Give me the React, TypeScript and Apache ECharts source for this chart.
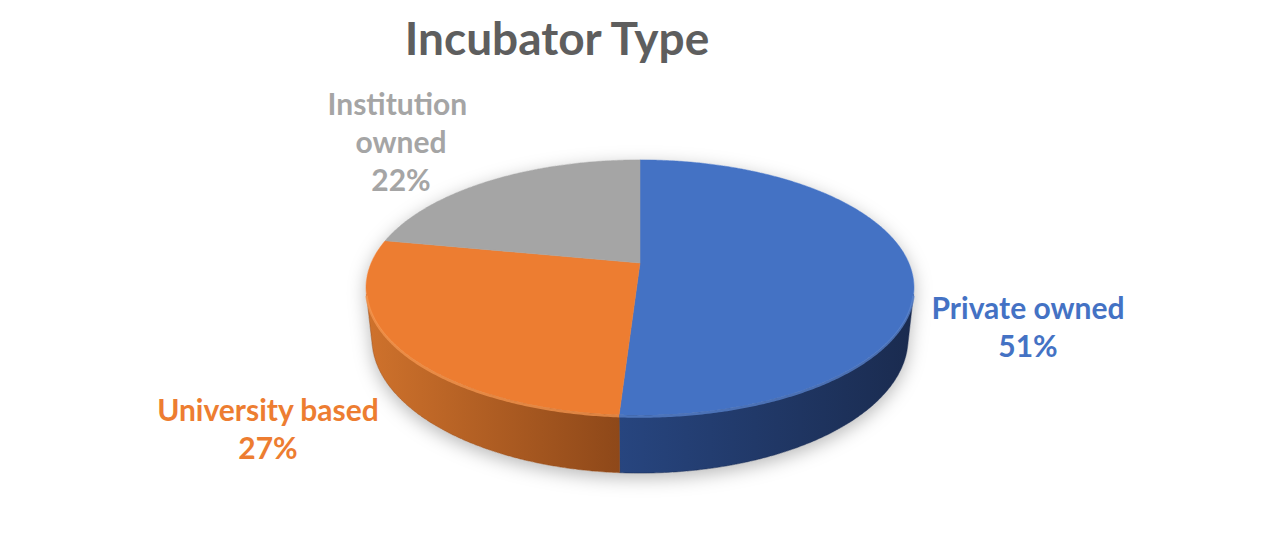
import React, { useEffect, useRef } from "react";
import * as echarts from "echarts";

// ---- data ----
const TITLE = "Incubator Type";
const categories = ["Private owned", "University based", "Institution owned"];
const shares = [51, 27, 22];

// ---- styles / layout ----
const topColors = ["#4472C4", "#ED7D31", "#A5A5A5"];
const sideLight = ["#27457F", "#CF722C", "#8C8C8C"];
const sideDark = ["#1A2B4F", "#8E4819", "#6A6A6A"];
const rimColors = ["#5A84CF", "#F59750", "#BDBDBD"];
const labelColors = ["#4472C4", "#ED7D31", "#A5A5A5"];
const labelAnchors = [
  [1028, 326],
  [268, 428],
  [401, 141],
];
const labelWrap = [300, 300, 160];

// 3D projection of the pie disc
const CX = 640;
const CY = 263;
const F = 1244.6;
const D = 4.629;
const TH = (27.2 * Math.PI) / 180;
const S = Math.sin(TH);
const C = Math.cos(TH);
const H = 0.2144;

function proj(x: number, y: number, z: number): number[] {
  const depth = D - (y * S + z * C);
  return [CX + (F * x) / depth, CY - (F * (y * C - z * S)) / depth];
}
function rim(a: number, y: number) {
  return proj(Math.sin(a), y, -Math.cos(a));
}
function arc(a0: number, a1: number, y: number) {
  const n = Math.max(2, Math.ceil((a1 - a0) / (Math.PI / 360)));
  const pts: number[][] = [];
  for (let i = 0; i <= n; i++) pts.push(rim(a0 + ((a1 - a0) * i) / n, y));
  return pts;
}

export default function App() {
  const ref = useRef<HTMLDivElement>(null);
  useEffect(() => {
    document.body.style.margin = "0";
    const chart = echarts.init(ref.current!, undefined, { renderer: "svg" });
    const total = shares.reduce((a, b) => a + b, 0);
    const av = Math.acos(-1 / (D * C));
    const TWO = Math.PI * 2;

    const renderItem = (params: any, api: any) => {
      const idx = params.dataIndex;
      let start = 0;
      for (let j = 0; j < idx; j++) start += (shares[j] / total) * TWO;
      const a0 = start;
      const a1 = start + (api.value(0) / total) * TWO;
      const children: any[] = [];
      if (idx === 0) {
        const outline = arc(av, TWO - av, -H).concat(arc(TWO - av, TWO + av, 0));
        children.push({
          type: "polygon",
          z2: 0,
          shape: { points: outline },
          style: {
            fill: "#ffffff",
            shadowBlur: 18,
            shadowColor: "rgba(0,0,0,0.28)",
            shadowOffsetY: 5,
          },
        });
      }
      const w0 = Math.max(a0, av);
      const w1 = Math.min(a1, TWO - av);
      if (w1 > w0) {
        const pts = arc(w0, w1, 0).concat(arc(w0, w1, -H).reverse());
        children.push({
          type: "polygon",
          z2: 1,
          shape: { points: pts },
          style: {
            fill: new echarts.graphic.LinearGradient(0, 0, 1, 0, [
              { offset: 0, color: sideLight[idx] },
              { offset: 1, color: sideDark[idx] },
            ]),
            stroke: sideDark[idx],
            lineWidth: 0.5,
          },
        });
      }
      const top = [proj(0, 0, 0)].concat(arc(a0, a1, 0));
      children.push({
        type: "polygon",
        z2: 2,
        shape: { points: top },
        style: { fill: topColors[idx], stroke: topColors[idx], lineWidth: 0.5 },
      });
      if (w1 > w0) {
        children.push({
          type: "polyline",
          z2: 3,
          shape: { points: arc(w0, w1, -0.005) },
          style: { stroke: rimColors[idx], lineWidth: 2.5, opacity: 0.75, fill: null },
        });
      }
      const pct = Math.round((api.value(0) / total) * 100);
      children.push({
        type: "text",
        z2: 4,
        x: labelAnchors[idx][0],
        y: labelAnchors[idx][1],
        style: {
          text: `${categories[idx]}\n${pct}%`,
          fill: labelColors[idx],
          font: "bold 30px Lato",
          align: "center",
          verticalAlign: "middle",
          lineHeight: 38,
          width: labelWrap[idx],
          overflow: "break",
        },
      });
      return { type: "group", children };
    };

    chart.setOption({
      animation: false,
      backgroundColor: "#ffffff",
      graphic: [
        {
          type: "text",
          x: 557,
          y: 37,
          style: {
            text: TITLE,
            fill: "#5E5E5E",
            font: "bold 46px Lato",
            align: "center",
            verticalAlign: "middle",
          },
        },
      ],
      series: [
        {
          type: "custom",
          coordinateSystem: "none",
          renderItem,
          data: shares.map((v, i) => ({ value: v, name: categories[i] })),
        },
      ],
    });
    return () => chart.dispose();
  }, []);
  return (
    <div
      ref={ref}
      style={{ position: "absolute", left: 0, top: 0, width: 1263, height: 540 }}
    />
  );
}
